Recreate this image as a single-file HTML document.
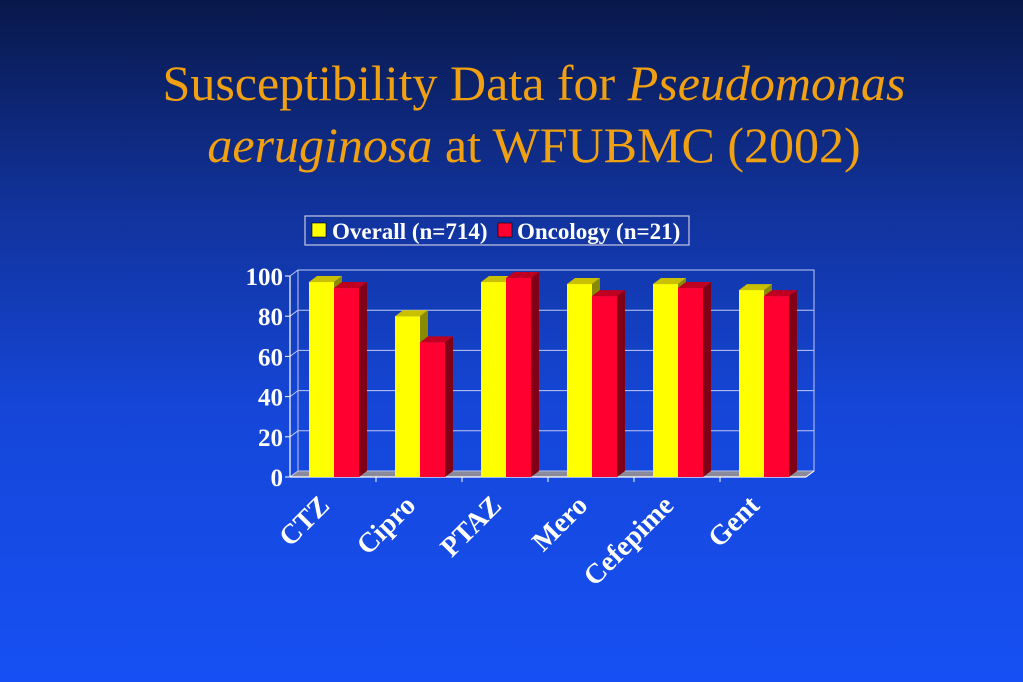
<!DOCTYPE html>
<html><head><meta charset="utf-8"><style>
html,body{margin:0;padding:0;width:1023px;height:682px;overflow:hidden}
body{background:linear-gradient(180deg,#09184a 0%,#11329a 30%,#1546d8 60%,#1650f4 100%);font-family:"Liberation Serif",serif}
</style></head><body>
<svg width="1023" height="682" style="position:absolute;left:0;top:0">
<g fill="#f0a010" font-family="Liberation Serif, serif" font-size="50" text-anchor="middle">
<text x="534" y="100">Susceptibility Data for <tspan font-style="italic">Pseudomonas</tspan></text>
<text x="534" y="162"><tspan font-style="italic">aeruginosa</tspan> at WFUBMC (2002)</text>
</g>
<g>
<rect x="305" y="216" width="384" height="29" fill="none" stroke="#c8c8e0" stroke-width="1.2"/>
<rect x="312" y="223" width="14" height="14" fill="#ffff00" stroke="#000" stroke-width="0.6"/>
<text x="332" y="239" fill="#fff" font-weight="bold" font-size="23">Overall (n=714)</text>
<rect x="498" y="223" width="14" height="14" fill="#ff0030" stroke="#000" stroke-width="0.6"/>
<text x="517" y="239" fill="#fff" font-weight="bold" font-size="23">Oncology (n=21)</text>
</g>
<g id="plot"></g>
</svg>
<script>
const categories=["CTZ","Cipro","PTAZ","Mero","Cefepime","Gent"];
const overall=[97,80,97,96,96,93];
const oncology=[94,67,99,90,94,90];
const yTicks=[0,20,40,60,80,100];
const NS="http://www.w3.org/2000/svg";
const g=document.getElementById('plot');
const X0=290,X1=806,Y0=477,Y100=276,DX=8,DY=-6;
const catW=(X1-X0)/categories.length;
function y(v){return Y0-(v/100)*(Y0-Y100);}
function mk(t,a,p){const e=document.createElementNS(NS,t);for(const k in a)e.setAttribute(k,a[k]);(p||g).appendChild(e);return e;}
let w=mk('rect',{x:X0+DX,y:Y100+DY,width:X1-X0,height:Y0-Y100,fill:'none',stroke:'#c0c8f0','stroke-width':1});


yTicks.forEach(t=>{
 const l=mk('line',{x1:X0+DX,x2:X1+DX,y1:y(t)+DY,y2:y(t)+DY,stroke:'#c0c8f0','stroke-width':1});
 
 
 const s=mk('line',{x1:X0,x2:X0+DX,y1:y(t),y2:y(t)+DY,stroke:'#c0c8f0','stroke-width':1});
 
 
 const tk=mk('line',{x1:X0-5,x2:X0,y1:y(t),y2:y(t),stroke:'#fff','stroke-width':1});
 
 
 const tx=mk('text',{x:X0-7,y:y(t)+9,fill:'#fff','font-size':25,'font-weight':'bold','text-anchor':'end'});
 tx.textContent=t;
 
 
});
const fl=mk('polygon',{points:`${X0},${Y0} ${X1},${Y0} ${X1+DX},${Y0+DY} ${X0+DX},${Y0+DY}`,fill:'#8a8a9a',stroke:'#c0c8f0','stroke-width':0.8});


const ax=mk('line',{x1:X0,x2:X0,y1:Y0,y2:Y100,stroke:'#fff','stroke-width':1.2});


const xa=mk('line',{x1:X0,x2:X1,y1:Y0,y2:Y0,stroke:'#fff','stroke-width':1.2});


function bar(x,v,front,top,side,name){
 const bg=mk('g',{});
 
 
 const bw=25,yt=y(v);
 mk('polygon',{points:`${x+bw},${Y0} ${x+bw+DX},${Y0+DY} ${x+bw+DX},${yt+DY} ${x+bw},${yt}`,fill:side},bg);
 mk('polygon',{points:`${x},${yt} ${x+DX},${yt+DY} ${x+bw+DX},${yt+DY} ${x+bw},${yt}`,fill:top},bg);
 mk('rect',{x:x,y:yt,width:bw,height:Y0-yt,fill:front},bg);
}
categories.forEach((c,i)=>{
 const cx=X0+i*catW;
 if(i>0){const t=mk('line',{x1:cx,x2:cx,y1:Y0,y2:Y0+5,stroke:'#fff','stroke-width':1});
  
  }
 bar(cx+19,overall[i],'#ffff00','#c8c000','#8a8a00','bar-overall-'+c.toLowerCase());
 bar(cx+44,oncology[i],'#ff0030','#c00020','#800018','bar-oncology-'+c.toLowerCase());
 const lx=cx+catW/2-2,ly=507;
 const tx=mk('text',{x:lx,y:ly,fill:'#fff','font-size':28,'font-weight':'bold','text-anchor':'end',transform:`rotate(-45 ${lx} ${ly})`});
 tx.textContent=c;
 
 
});
const lt=mk('line',{x1:X1,x2:X1+DX,y1:Y0,y2:Y0+DY,stroke:'#fff','stroke-width':1});


</script>
</body></html>
